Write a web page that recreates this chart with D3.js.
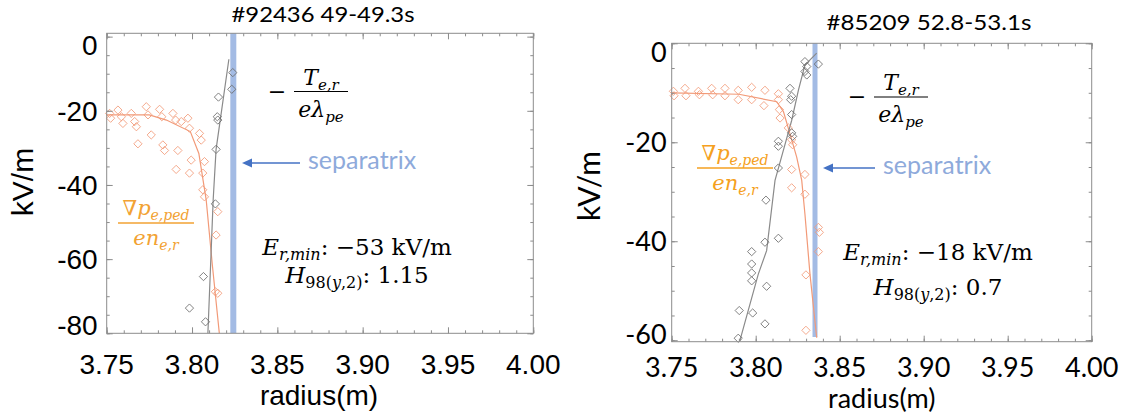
<!DOCTYPE html>
<html>
<head>
<meta charset="utf-8">
<script src="https://cdn.jsdelivr.net/npm/d3@7"></script>
<style>
  body { margin: 0; background: #fff; }
  svg { display: block; }
</style>
</head>
<body>
<div id="chart"></div>
<script>
// ---- data: radius (m), Er (kV/m) ----
const xTicks = [3.75, 3.80, 3.85, 3.90, 3.95, 4.00];

// shot #92436
const aTitle = "#92436 49-49.3s";
const aYTicks = [0, -20, -40, -60, -80];
const aPedR = [3.7517, 3.7523, 3.7566, 3.7586, 3.7595, 3.7644, 3.7664, 3.7674, 3.7683, 3.7732, 3.7742, 3.7761,
  3.7810, 3.7823, 3.7829, 3.7839, 3.7888, 3.7904, 3.7917, 3.7907, 3.7937, 3.7976, 3.7985, 3.7985, 3.7995,
  3.8044, 3.8054, 3.8073, 3.8063, 3.8063, 3.8073, 3.8151, 3.8141, 3.8137, 3.8151];
const aPedE = [-20.7, -22.0, -19.8, -21.6, -23.4, -20.7, -22.9, -24.3, -28.9, -18.9, -21.1, -26.5,
  -19.6, -21.6, -29.2, -30.7, -20.7, -22.5, -30.7, -35.8, -22.9, -22.0, -24.7, -36.8, -33.3,
  -26.1, -27.9, -33.7, -36.8, -41.3, -43.2, -47.2, -53.5, -68.8, -69.2];
const aPedFitR = [3.75, 3.775, 3.785, 3.799, 3.804, 3.8083, 3.812, 3.816];
const aPedFitE = [-21.1, -21.1, -22.5, -25.6, -31.5, -44.0, -62.0, -80.0];
const aTeR = [3.8239, 3.8233, 3.8155, 3.8151, 3.8148, 3.8141, 3.8137, 3.8067, 3.7985, 3.8079];
const aTeE = [-9.7, -14.2, -16.3, -22.5, -21.6, -30.4, -45.1, -64.7, -73.2, -76.9];
const aTeFitR = [3.8216, 3.8141, 3.8124, 3.8093];
const aTeFitE = [-6.1, -30.4, -44.0, -80.0];
const aSep = 3.8242;
const aErMin = "−53 kV/m";
const aH98 = "1.15";

// shot #85209
const bTitle = "#85209 52.8-53.1s";
const bYTicks = [0, -20, -40, -60];
const bPedR = [3.7510, 3.7514, 3.7579, 3.7585, 3.7659, 3.7665, 3.7738, 3.7744, 3.7817, 3.7817, 3.7896, 3.7896,
  3.7976, 3.7976, 3.8055, 3.8049, 3.8135, 3.8135, 3.8141, 3.8145, 3.8194, 3.8214, 3.8220, 3.8214, 3.8214,
  3.8293, 3.8293, 3.8373, 3.8379, 3.8373, 3.8299, 3.8299];
const bPedE = [-9.7, -10.6, -9.1, -10.6, -9.7, -10.4, -9.1, -10.4, -9.1, -10.6, -9.5, -11.4,
  -8.9, -11.4, -9.5, -12.6, -10.2, -11.4, -13.4, -15.1, -17.1, -19.5, -20.5, -25.5, -29.2,
  -26.5, -30.5, -37.2, -38.2, -42.1, -46.8, -58.0];
const bPedFitR = [3.75, 3.79, 3.8125, 3.8165, 3.8204, 3.8244, 3.8274, 3.8293, 3.8323, 3.8363];
const bPedFitE = [-10.0, -10.3, -11.8, -13.8, -18.3, -23.0, -27.7, -34.5, -46.6, -59.5];
const bTeR = [3.8293, 3.8304, 3.8293, 3.8304, 3.8373, 3.8204, 3.8214, 3.8208, 3.8214, 3.8214, 3.8220, 3.8135,
  3.8135, 3.8135, 3.8061, 3.8135, 3.8055, 3.7976, 3.7976, 3.7976, 3.7976, 3.8065, 3.7902, 3.7982, 3.8055, 3.7896];
const bTeE = [-3.7, -4.7, -5.7, -6.4, -4.2, -9.1, -10.7, -11.4, -14.4, -18.1, -18.8, -19.8,
  -20.8, -25.2, -31.7, -39.4, -40.2, -42.1, -44.6, -46.4, -48.0, -49.1, -54.0, -54.5, -56.7, -59.6];
const bTeFitR = [3.8363, 3.8293, 3.8254, 3.8214, 3.8165, 3.8115, 3.8065, 3.8015, 3.7905];
const bTeFitE = [-2.0, -4.4, -9.5, -15.6, -21.6, -27.7, -41.9, -46.7, -60.2];
const bSep = 3.8353;
const bErMin = "−18 kV/m";
const bH98 = "0.7";

// ---- drawing ----
const W = 1128, H = 416;
const svg = d3.select("#chart").append("svg")
  .attr("width", W)
  .attr("height", H);

const PED = "#f29a78", TE = "#6b6b6b", SEP = "#a3bbe4";
const serif = "'DejaVu Serif', serif";

// square turned 45 degrees, like the IDL diamond
const diamond = {
  draw(ctx, size) {
    const r = Math.sqrt(size / 2);
    ctx.moveTo(0, -r); ctx.lineTo(r, 0); ctx.lineTo(0, r); ctx.lineTo(-r, 0); ctx.closePath();
  }
};

// a line of text with italic pieces and subscripts
function mathText(g, x, y, parts, size, color, anchor) {
  const t = g.append("text")
    .attr("x", x).attr("y", y)
    .attr("text-anchor", anchor || "middle")
    .style("font-family", serif)
    .style("font-size", size + "px")
    .attr("fill", color);
  let shift = 0;
  parts.forEach(p => {
    const dy = (p.sub ? 5 : 0) - shift;
    shift = p.sub ? 5 : 0;
    t.append("tspan")
      .attr("dy", dy)
      .style("font-style", p.it ? "italic" : "normal")
      .style("font-size", p.sub ? Math.round(size * 0.68) + "px" : null)
      .text(p.t);
  });
  return t;
}

function drawPanel(c) {
  const g = svg.append("g");
  const x = d3.scaleLinear().domain([3.75, 4.0]).range([c.left, c.right]);
  const y = d3.scaleLinear().domain(c.yDomain).range([c.bottom, c.top]);

  // separatrix band
  g.append("line")
    .attr("x1", x(c.sep)).attr("x2", x(c.sep))
    .attr("y1", c.top).attr("y2", c.sepEnd)
    .attr("stroke", SEP)
    .attr("stroke-width", c.sepW);

  // fits
  const line = d3.line().x(d => x(d[0])).y(d => y(d[1]));
  g.append("path")
    .datum(d3.zip(c.pedFitR, c.pedFitE))
    .attr("d", line)
    .attr("fill", "none")
    .attr("stroke", PED)
    .attr("stroke-width", 1.2);
  g.append("path")
    .datum(d3.zip(c.teFitR, c.teFitE))
    .attr("d", line)
    .attr("fill", "none")
    .attr("stroke", "#8a8a8a")
    .attr("stroke-width", 1.2);

  // points
  const sym = d3.symbol().type(diamond).size(34);
  g.selectAll(".ped")
    .data(d3.zip(c.pedR, c.pedE))
    .enter().append("path")
    .attr("class", "ped")
    .attr("d", sym)
    .attr("transform", d => `translate(${x(d[0])},${y(d[1])})`)
    .attr("fill", "none")
    .attr("stroke", PED)
    .attr("stroke-opacity", 0.85);
  g.selectAll(".te")
    .data(d3.zip(c.teR, c.teE))
    .enter().append("path")
    .attr("class", "te")
    .attr("d", sym)
    .attr("transform", d => `translate(${x(d[0])},${y(d[1])})`)
    .attr("fill", "none")
    .attr("stroke", TE)
    .attr("stroke-opacity", 0.85);

  // frame with inward ticks on all four sides
  const xMinor = d3.range(3.75, 4.0001, 0.01);
  const yMinor = d3.range(0, c.yDomain[0] - 0.01, -5);
  const tick = (axis, tr, vals, len) => {
    const a = g.append("g").attr("transform", tr)
      .call(axis.tickValues(vals).tickSize(len).tickFormat(""));
    a.select(".domain").remove();
    a.selectAll("line").attr("stroke", "#8c8c8c");
  };
  tick(d3.axisBottom(x), `translate(0,${c.bottom})`, xMinor, -3);
  tick(d3.axisBottom(x), `translate(0,${c.bottom})`, xTicks, -6);
  tick(d3.axisTop(x), `translate(0,${c.top})`, xMinor, -3);
  tick(d3.axisTop(x), `translate(0,${c.top})`, xTicks, -6);
  tick(d3.axisLeft(y), `translate(${c.left},0)`, yMinor, -3);
  tick(d3.axisLeft(y), `translate(${c.left},0)`, c.yTicks, -6);
  tick(d3.axisRight(y), `translate(${c.right},0)`, yMinor, -3);
  tick(d3.axisRight(y), `translate(${c.right},0)`, c.yTicks, -6);
  g.append("rect")
    .attr("x", c.left).attr("y", c.top)
    .attr("width", c.right - c.left).attr("height", c.bottom - c.top)
    .attr("fill", "none")
    .attr("stroke", "#8c8c8c");

  // tick labels
  g.selectAll(".xl")
    .data(xTicks)
    .enter().append("text")
    .attr("x", d => x(d))
    .attr("y", c.xLabelY)
    .attr("text-anchor", "middle")
    .style("font-family", c.font)
    .style("font-size", c.tickSize + "px")
    .text(d3.format(".2f"));
  g.selectAll(".yl")
    .data(c.yTicks)
    .enter().append("text")
    .attr("x", c.left - c.yLabelGap)
    .attr("y", (d, i) => y(d) + (i === 0 ? c.endShift[0] : i === c.yTicks.length - 1 ? c.endShift[1] : 0))
    .attr("dy", "0.36em")
    .attr("text-anchor", "end")
    .style("font-family", c.font)
    .style("font-size", c.tickSize + "px")
    .text(d => String(d));

  // axis titles
  g.append("text")
    .attr("x", (c.left + c.right) / 2 + c.xTitleDx)
    .attr("y", c.xTitleY)
    .attr("text-anchor", "middle")
    .style("font-family", c.font)
    .style("font-size", c.tickSize + "px")
    .text("radius(m)");
  g.append("text")
    .attr("transform", `translate(${c.yTitleX},${c.yTitleY}) rotate(-90)`)
    .attr("text-anchor", "middle")
    .attr("dy", "0.36em")
    .style("font-family", c.font)
    .style("font-size", c.yTitleSize + "px")
    .text("kV/m");

  // shot title
  g.append("text")
    .attr("x", c.titleX).attr("y", c.titleY)
    .attr("text-anchor", "middle")
    .attr("textLength", c.titleLen)
    .attr("lengthAdjust", "spacingAndGlyphs")
    .style("font-family", "Lato, sans-serif")
    .style("font-size", "22px")
    .text(c.title);

  // separatrix arrow
  const ax = c.arrow;
  g.append("line")
    .attr("x1", ax[0]).attr("x2", ax[1] + 9)
    .attr("y1", ax[2]).attr("y2", ax[2])
    .attr("stroke", "#4472c4")
    .attr("stroke-width", 1.5);
  g.append("path")
    .attr("d", `M${ax[1]},${ax[2]} l10,-4.5 l0,9 z`)
    .attr("fill", "#4472c4");
  g.append("text")
    .attr("x", ax[0] + 8).attr("y", ax[2] + 6)
    .style("font-family", "Lato, sans-serif")
    .style("font-size", "25px")
    .attr("fill", "#8eaadb")
    .text("separatrix");

  // -Te,r / (e lambda_pe)
  const f = c.teLabel;
  g.append("text")
    .attr("x", f[0] - 44).attr("y", f[1] + 7)
    .attr("text-anchor", "middle")
    .style("font-family", serif)
    .style("font-size", "22px")
    .text("−");
  g.append("line")
    .attr("x1", f[0] - 27).attr("x2", f[0] + 27)
    .attr("y1", f[1]).attr("y2", f[1])
    .attr("stroke", "#000");
  mathText(g, f[0], f[1] - 7, [{ t: "T", it: true }, { t: "e,r", it: true, sub: true }], 22, "#000");
  mathText(g, f[0], f[1] + 25, [{ t: "eλ", it: true }, { t: "pe", it: true, sub: true }], 22, "#000");

  // grad p / (e n)
  const p = c.pedLabel;
  g.append("line")
    .attr("x1", p[0] - 38).attr("x2", p[0] + 38)
    .attr("y1", p[1]).attr("y2", p[1])
    .attr("stroke", c.pedTextColor)
    .attr("stroke-width", 1.5);
  mathText(g, p[0], p[1] - 8, [{ t: "∇" }, { t: "p", it: true }, { t: "e,ped", it: true, sub: true }], 21, c.pedTextColor);
  mathText(g, p[0], p[1] + 22, [{ t: "en", it: true }, { t: "e,r", it: true, sub: true }], 21, c.pedTextColor);

  // Er,min and H98
  const e = c.erLabel;
  mathText(g, e[0], e[1], [{ t: "E", it: true }, { t: "r,min", it: true, sub: true }, { t: ": " + c.erMin }], 23, "#000");
  mathText(g, e[0], e[1] + c.hGap, [{ t: "H", it: true }, { t: "98(", sub: true }, { t: "y", it: true, sub: true },
    { t: ",2)", sub: true }, { t: ": " + c.h98 }], 23, "#000");
}

drawPanel({
  left: 106.7, right: 533.3, top: 33.3, bottom: 333.3, yDomain: [-80, 0.9], yTicks: aYTicks,
  endShift: [8, -8], yLabelGap: 9, font: "'Liberation Sans', Arial, sans-serif", tickSize: 28,
  xLabelY: 374, xTitleY: 405, xTitleDx: -1, yTitleX: 22, yTitleY: 182, yTitleSize: 30,
  title: aTitle, titleX: 323, titleY: 22, titleLen: 183,
  sep: aSep, sepW: 6, sepEnd: 333,
  pedR: aPedR, pedE: aPedE, pedFitR: aPedFitR, pedFitE: aPedFitE,
  teR: aTeR, teE: aTeE, teFitR: aTeFitR, teFitE: aTeFitE,
  arrow: [300, 242, 163], teLabel: [321, 91.5], pedLabel: [156, 223], pedTextColor: "#f2a233",
  erLabel: [357, 255], hGap: 28, erMin: aErMin, h98: aH98
});

drawPanel({
  left: 671.7, right: 1091.7, top: 43.3, bottom: 341.7, yDomain: [-60.3, 0], yTicks: bYTicks,
  endShift: [9, -6], yLabelGap: 5, font: "Lato, sans-serif", tickSize: 27,
  xLabelY: 377, xTitleY: 408, xTitleDx: 0, yTitleX: 589, yTitleY: 186, yTitleSize: 30,
  title: bTitle, titleX: 929, titleY: 30, titleLen: 205,
  sep: bSep, sepW: 5, sepEnd: 337,
  pedR: bPedR, pedE: bPedE, pedFitR: bPedFitR, pedFitE: bPedFitE,
  teR: bTeR, teE: bTeE, teFitR: bTeFitR, teFitE: bTeFitE,
  arrow: [875, 823, 168], teLabel: [901, 97], pedLabel: [735, 168], pedTextColor: "#f5a020",
  erLabel: [938, 260], hGap: 35, erMin: bErMin, h98: bH98
});
</script>
</body>
</html>
